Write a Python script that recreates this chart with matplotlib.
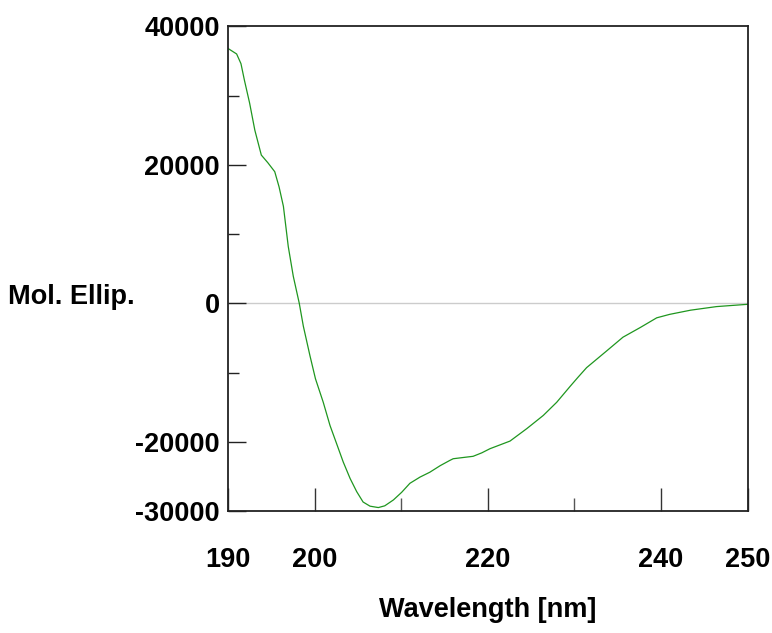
import matplotlib
matplotlib.use("Agg")
import matplotlib.pyplot as plt
from matplotlib.ticker import FixedLocator

# ── Data ───────────────────────────────────────────────────────────────────────

wavelength = [190.0, 191.0, 191.5, 191.9, 192.5, 193.1, 193.85, 194.6, 195.4,
              195.9, 196.4, 196.96, 197.54, 198.23, 198.7, 199.47, 200.1,
              201.0, 201.78, 202.55, 203.3, 204.1, 204.86, 205.6, 206.4,
              207.36, 208.1, 209.1, 210.05, 211.0, 212.17, 213.3, 214.5,
              215.6, 216.0, 217.3, 218.3, 219.3, 220.25, 222.56, 224.5,
              226.4, 227.95, 229.5, 230.4, 231.4, 233.7, 235.6, 237.6,
              239.5, 241.0, 242.2, 243.4, 246.4, 250.0]
mol_ellip = [36800, 36000, 34600, 32200, 28900, 25000, 21400, 20300, 19000,
             16800, 14000, 8200, 3900, 0, -3300, -7600, -10900,
             -14300, -17650, -20300, -22900, -25300, -27200, -28700, -29300,
             -29500, -29250, -28400, -27300, -26000, -25100, -24400, -23450,
             -22700, -22450, -22250, -22100, -21600, -21000, -19900, -18100,
             -16200, -14300, -12000, -10700, -9300, -6900, -4900, -3500,
             -2100, -1600, -1300, -1000, -480, -150]

x_major = [190, 200, 220, 240, 250]
x_minor = [210, 230]
y_major = [-30000, -20000, 0, 20000, 40000]
y_minor = [-10000, 10000, 30000]

plt.rcParams["font.family"] = ["Liberation Sans", "DejaVu Sans"]
plt.rcParams["font.weight"] = "bold"
FS = 19.5

# ── Chart ──────────────────────────────────────────────────────────────────────

fig = plt.figure(figsize=(7.72, 6.33), dpi=100)
ax = fig.add_axes([0.2953, 0.1927, 0.6732, 0.7658])

ax.axhline(0, color="#cccccc", linewidth=1.0, zorder=1)
ax.plot(wavelength, mol_ellip, color="#1f961f", linewidth=0.9, zorder=2)

ax.set_xlim(190, 250)
ax.set_ylim(-30000, 40000)

ax.xaxis.set_major_locator(FixedLocator(x_major))
ax.xaxis.set_minor_locator(FixedLocator(x_minor))
ax.yaxis.set_major_locator(FixedLocator(y_major))
ax.yaxis.set_minor_locator(FixedLocator(y_minor))
ax.set_xticklabels([str(v) for v in x_major])
ax.set_yticklabels([str(v) for v in y_major])

ax.tick_params(axis="x", which="major", direction="in", length=16.5,
               width=1.0, color="#333333", pad=26, labelsize=FS)
ax.tick_params(axis="x", which="minor", direction="in", length=9.5,
               width=1.0, color="#555555")
ax.tick_params(axis="y", which="major", direction="in", length=13,
               width=1.0, color="#222222", pad=6, labelsize=FS)
ax.tick_params(axis="y", which="minor", direction="in", length=8,
               width=1.0, color="#222222")

for side in ["left", "right", "top", "bottom"]:
    ax.spines[side].set_color("#222222")
    ax.spines[side].set_linewidth(1.3)

ax.set_xlabel("Wavelength [nm]", fontsize=FS, fontweight="bold")
ax.xaxis.set_label_coords(0.5, -0.205)
ax.xaxis.label.set_va("center")

ax.set_ylabel("Mol. Ellip.", fontsize=FS, fontweight="bold", rotation=0)
ax.yaxis.set_label_coords(-0.179, 0.4415)
ax.yaxis.label.set_ha("right")
ax.yaxis.label.set_va("center")

fig.savefig("out.png", dpi=100)
